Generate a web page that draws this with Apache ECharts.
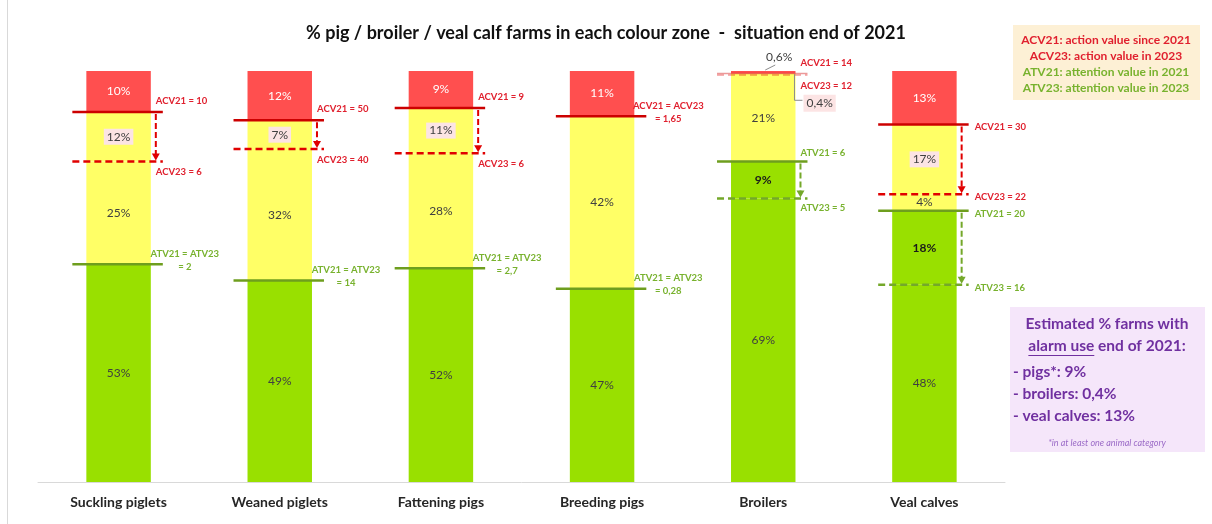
<!DOCTYPE html>
<html>
<head>
<meta charset="utf-8">
<script src="https://cdn.jsdelivr.net/npm/echarts@6/dist/echarts.min.js"></script>
<style>
  html, body { margin: 0; padding: 0; background: #ffffff; }
  #chart { width: 1212px; height: 524px; }
</style>
</head>
<body>
<div id="chart"></div>
<script>
// Farm categories and the share (%) of farms in each colour zone, end of 2021
const categories = ['Suckling piglets', 'Weaned piglets', 'Fattening pigs', 'Breeding pigs', 'Broilers', 'Veal calves'];
const redShare          = [10, 12, 9, 11, 0.6, 13];   // above ACV21
const yellowAboveAcv23  = [12, 7, 11, 0, 0.4, 17];    // between ACV21 and ACV23
const yellowBelowAcv23  = [25, 32, 28, 42, 21, 4];    // between ACV23 and ATV21
const greenAboveAtv23   = [0, 0, 0, 0, 9, 18];        // between ATV21 and ATV23
const greenBelowAtv23   = [53, 49, 52, 47, 69, 48];   // below ATV23

// Threshold values (text as published, decimal comma)
const acv21Values = ['10', '50', '9', '1,65', '14', '30'];
const acv23Values = ['6', '40', '6', '1,65', '12', '22'];
const atv21Values = ['2', '14', '2,7', '0,28', '6', '20'];
const atv23Values = ['2', '14', '2,7', '0,28', '5', '16'];

const FONT = 'Lato, "Open Sans", sans-serif';
const C = {
  red: '#FF4F4F', yellow: '#FFFF66', green: '#99E000',
  redLine: '#CC0000', redDash: '#E00000', greenLine: '#6E9E1E', greenDash: '#74A82A',
  redText: '#E0202E', greenText: '#78B22E', pinkBox: '#FCE4E4'
};
const SMALL = 2; // segments thinner than this (%) get an outside callout

function pct(v) { return String(v).replace('.', ',') + '%'; }

function segData(values, color, labelExtra) {
  return values.map(v => ({
    value: v,
    label: Object.assign({
      show: v >= SMALL, position: 'inside', color: color,
      fontFamily: FONT, fontSize: 12, formatter: p => pct(p.value)
    }, labelExtra || {})
  }));
}

function barSeries(name, values, fill, labelColor, labelExtra) {
  return {
    name: name, type: 'bar', stack: 'zone', barWidth: '40%',
    itemStyle: { color: fill }, emphasis: { disabled: true },
    data: segData(values, labelColor, labelExtra)
  };
}

// Threshold lines, arrows, threshold texts and callouts for thin segments
function renderThresholds(params, api) {
  const i = api.value(0);
  const band = api.size([1, 0])[0];
  const barW = band * 0.4;
  const cx = api.coord([i, 0])[0];
  const left = cx - barW / 2, right = cx + barW / 2;
  const yOf = v => api.coord([i, v])[1];

  const atv23 = greenBelowAtv23[i];
  const atv21 = atv23 + greenAboveAtv23[i];
  const acv23 = atv21 + yellowBelowAcv23[i];
  const acv21 = acv23 + yellowAboveAcv23[i];
  const top = acv21 + redShare[i];

  const yAcv21 = yOf(acv21), yAcv23 = yOf(acv23), yAtv21 = yOf(atv21), yAtv23 = yOf(atv23), yTop = yOf(top);
  const children = [];
  const x1 = left - 14, x2 = right + 12, xArrow = right + 5;
  const sideLabels = (yAtv21 - yAcv23) < 30;

  function hline(y, color, dashed, faint) {
    children.push({
      type: 'line', shape: { x1: x1, y1: y, x2: x2, y2: y },
      style: { stroke: color, lineWidth: faint ? 1.5 : 2.5, lineDash: dashed ? [7, 4] : null, opacity: faint ? 0.4 : 1 }
    });
  }
  function arrow(yFrom, yTo, color) {
    children.push({
      type: 'line', shape: { x1: xArrow, y1: yFrom + 2, x2: xArrow, y2: yTo - 7 },
      style: { stroke: color, lineWidth: 2, lineDash: [6, 3] }
    });
    children.push({
      type: 'polygon', shape: { points: [[xArrow - 4, yTo - 8], [xArrow + 4, yTo - 8], [xArrow, yTo - 1]] },
      style: { fill: color }
    });
  }
  function txt(text, x, y, color, align, extra) {
    children.push({
      type: 'text',
      style: Object.assign({
        text: text, x: x, y: y, fill: color, align: align || 'left', verticalAlign: 'middle',
        fontFamily: FONT, fontSize: 9.5, fontWeight: 'bold', lineHeight: 13
      }, extra || {})
    });
  }

  function pair(name1, name2, v1, v2, y1, y2, solidC, dashC, textC, aboveOff, belowOff) {
    if (v1 === v2) {
      hline(y1, solidC, false, false);
      txt(name1 + ' = ' + name2 + '\n= ' + v1, right + 34, y1 - 4, textC, 'center');
      return;
    }
    const faint = (y2 - y1) < 4;
    hline(y1, solidC, false, faint);
    hline(y2, dashC, true, faint);
    if (y2 - y1 > 10) arrow(y1, y2, dashC);
    if (sideLabels) {
      txt(name1 + ' = ' + v1, right + 18, y1 + 3, textC);
      txt(name2 + ' = ' + v2, right + 18, y2 + 3, textC);
    } else {
      txt(name1 + ' = ' + v1, right + 5, y1 - aboveOff, textC);
      txt(name2 + ' = ' + v2, right + 5, y2 + belowOff, textC);
    }
  }

  pair('ACV21', 'ACV23', acv21Values[i], acv23Values[i], yAcv21, yAcv23, C.redLine, C.redDash, C.redText, 11, 11);
  pair('ATV21', 'ATV23', atv21Values[i], atv23Values[i], yAtv21, yAtv23, C.greenLine, C.greenDash, C.greenText, 8, 10);

  // callout for a thin red segment: label above the bar
  if (redShare[i] > 0 && redShare[i] < SMALL) {
    children.push({
      type: 'line', shape: { x1: cx + 2, y1: yTop - 1, x2: cx + 12, y2: yTop - 6 },
      style: { stroke: '#8C8C8C', lineWidth: 1 }
    });
    txt(pct(redShare[i]), cx + 16, yTop - 14, '#404040', 'center', { fontSize: 12, fontWeight: 'normal' });
  }
  // callout for a thin segment between ACV21 and ACV23: label to the lower right
  if (yellowAboveAcv23[i] > 0 && yellowAboveAcv23[i] < SMALL) {
    const ly = (yAcv21 + yAcv23) / 2 + 29;
    children.push({
      type: 'polyline', shape: { points: [[right - 1, (yAcv21 + yAcv23) / 2], [right - 1, ly - 3], [right + 7, ly - 3]] },
      style: { stroke: '#8C8C8C', lineWidth: 1, fill: null }
    });
    txt(pct(yellowAboveAcv23[i]), right + 8, ly, '#404040', 'left',
      { fontSize: 12, fontWeight: 'normal', backgroundColor: C.pinkBox, padding: [2, 3] });
  }

  return { type: 'group', children: children };
}

const chart = echarts.init(document.getElementById('chart'), null, { renderer: 'canvas' });

// measure the underlined words in the info box
const INFO_SIZE = 15.5;
const mctx = document.createElement('canvas').getContext('2d');
mctx.font = 'bold ' + INFO_SIZE + 'px ' + FONT;
const underlinedWidth = mctx.measureText('alarm use').width;
const line2Width = mctx.measureText('alarm use end of 2021:').width;
const infoCx = 1107;
const line2Left = infoCx - line2Width / 2;

const purple = '#7030A0';
function infoText(text, x, y, align) {
  return { type: 'text', style: { text: text, x: x, y: y, align: align, verticalAlign: 'middle', fill: purple, fontFamily: FONT, fontSize: INFO_SIZE, fontWeight: 'bold' } };
}
function keyText(text, y, color) {
  return { type: 'text', style: { text: text, x: 1106, y: y, align: 'center', verticalAlign: 'middle', fill: color, fontFamily: FONT, fontSize: 12, fontWeight: 'bold' } };
}

chart.setOption({
  animation: false,
  backgroundColor: '#ffffff',
  title: {
    text: '% pig / broiler / veal calf farms in each colour zone  -  situation end of 2021',
    left: 'center', top: 19,
    textStyle: { fontFamily: FONT, fontSize: 18, fontWeight: 'bold', color: '#111111' }
  },
  grid: { left: 38, right: 207, top: 71, bottom: 42 },
  xAxis: {
    type: 'category', data: categories,
    axisLine: { lineStyle: { color: '#D9D9D9', width: 1 } },
    axisTick: { show: false },
    axisLabel: { margin: 13, fontFamily: FONT, fontSize: 14, fontWeight: 'bold', color: '#262626' }
  },
  yAxis: { type: 'value', min: 0, max: 100, show: false, splitLine: { show: false } },
  series: [
    barSeries('Green (below ATV23)', greenBelowAtv23, C.green, '#404040'),
    barSeries('Green (ATV21 to ATV23)', greenAboveAtv23, C.green, '#1A1A1A', { fontWeight: 'bold' }),
    barSeries('Yellow (ACV23 to ATV21)', yellowBelowAcv23, C.yellow, '#404040'),
    barSeries('Yellow (ACV21 to ACV23)', yellowAboveAcv23, C.yellow, '#404040', { backgroundColor: C.pinkBox, padding: [2, 3] }),
    barSeries('Red (above ACV21)', redShare, C.red, '#FFFFFF'),
    {
      type: 'custom', name: 'thresholds', renderItem: renderThresholds, silent: true, z: 10,
      encode: { x: 0, y: 1 },
      data: categories.map((c, i) => [i, 0])
    }
  ],
  graphic: [
    { type: 'line', shape: { x1: 7.5, y1: 0, x2: 7.5, y2: 524 }, style: { stroke: '#D9D9D9', lineWidth: 1 } },
    // legend of threshold abbreviations
    { type: 'rect', shape: { x: 1013, y: 25, width: 187, height: 75 }, style: { fill: '#FDF0D5' } },
    keyText('ACV21: action value since 2021', 40, C.redText),
    keyText('ACV23: action value in 2023', 56, C.redText),
    keyText('ATV21: attention value in 2021', 72, C.greenText),
    keyText('ATV23: attention value in 2023', 88, C.greenText),
    // alarm-use info box
    { type: 'rect', shape: { x: 1010, y: 307, width: 195, height: 145 }, style: { fill: '#F5E6FA' } },
    infoText('Estimated % farms with', infoCx, 324, 'center'),
    infoText('alarm use end of 2021:', line2Left, 346, 'left'),
    { type: 'line', shape: { x1: line2Left, y1: 355.5, x2: line2Left + underlinedWidth, y2: 355.5 }, style: { stroke: purple, lineWidth: 1 } },
    infoText('- pigs*: 9%', 1013, 372, 'left'),
    infoText('- broilers: 0,4%', 1013, 394, 'left'),
    infoText('- veal calves: 13%', 1013, 416, 'left'),
    { type: 'text', style: { text: '*in at least one animal category', x: infoCx, y: 443, align: 'center', verticalAlign: 'middle', fill: '#9B6BC7', fontFamily: FONT, fontSize: 9, fontStyle: 'italic' } }
  ]
});
</script>
</body>
</html>
